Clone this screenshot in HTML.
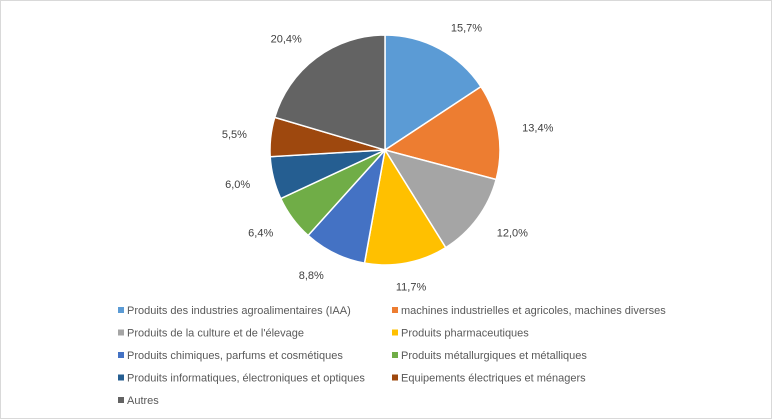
<!DOCTYPE html>
<html><head><meta charset="utf-8">
<style>
body{margin:0;background:#fff;}
#chart{position:relative;width:770px;height:417px;border:1px solid #d9d9d9;background:#fff;font-family:"Liberation Sans",sans-serif;}
svg{position:absolute;left:0;top:0;}
</style></head>
<body>
<div id="chart">
<svg id="svg" width="770" height="417"></svg>
</div>
<script>
const categories=["Produits des industries agroalimentaires (IAA)","machines industrielles et agricoles, machines diverses","Produits de la culture et de l'élevage","Produits pharmaceutiques","Produits chimiques, parfums et cosmétiques","Produits métallurgiques et métalliques","Produits informatiques, électroniques et optiques","Equipements électriques et ménagers","Autres"];
const values=[15.7,13.4,12.0,11.7,8.8,6.4,6.0,5.5,20.4];
const valueLabels=["15,7%","13,4%","12,0%","11,7%","8,8%","6,4%","6,0%","5,5%","20,4%"];
const colors=["#5B9BD5","#ED7D31","#A5A5A5","#FFC000","#4472C4","#70AD47","#255E91","#9E480E","#636363"];
const NS="http://www.w3.org/2000/svg";
const svg=document.getElementById('svg');
const cx=384,cy=149,R=115;
const total=values.reduce((a,b)=>a+b,0);
function pt(a,r){return [cx+r*Math.sin(a),cy-r*Math.cos(a)];}
let cum=0;
values.forEach((v,i)=>{
  const a0=cum/total*2*Math.PI; cum+=v; const a1=cum/total*2*Math.PI;
  const p0=pt(a0,R),p1=pt(a1,R);
  const large=(a1-a0)>Math.PI?1:0;
  const path=document.createElementNS(NS,'path');
  path.setAttribute('d',`M${cx},${cy}L${p0[0]},${p0[1]}A${R},${R} 0 ${large} 1 ${p1[0]},${p1[1]}Z`);
  path.setAttribute('fill',colors[i]);path.setAttribute('stroke','#fff');path.setAttribute('stroke-width','1.5');
  
  
  svg.appendChild(path);
  const am=(a0+a1)/2;
  const lp=pt(am,R+24);
  const t=document.createElementNS(NS,'text');
  t.setAttribute('x',lp[0]);t.setAttribute('y',lp[1]+4);
  t.setAttribute('text-anchor',Math.sin(am)>0.2?'start':(Math.sin(am)<-0.2?'end':'middle'));
  t.setAttribute('font-size','11');t.setAttribute('fill','#404040');
  t.textContent=valueLabels[i];
  
  
  svg.appendChild(t);
});
categories.forEach((c,i)=>{
  const col=i%2,row=Math.floor(i/2);
  const x=col?391:117,y=310+row*22.5;
  const g=document.createElementNS(NS,'g');
  
  
  const r=document.createElementNS(NS,'rect');
  r.setAttribute('x',x);r.setAttribute('y',y-4);r.setAttribute('width',6);r.setAttribute('height',6);r.setAttribute('fill',colors[i]);
  g.appendChild(r);
  const t=document.createElementNS(NS,'text');
  t.setAttribute('x',x+9);t.setAttribute('y',y+3);t.setAttribute('font-size','11');t.setAttribute('fill','#595959');
  t.textContent=c;g.appendChild(t);
  svg.appendChild(g);
});
</script>
</body></html>
